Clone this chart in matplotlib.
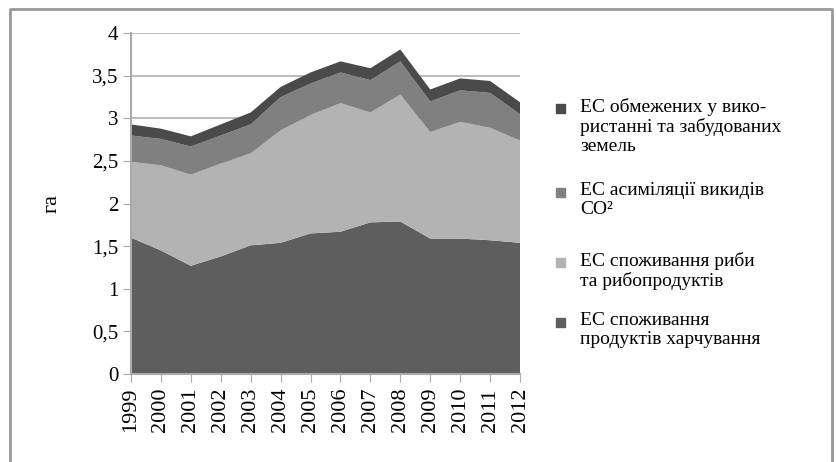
import matplotlib.pyplot as plt
from matplotlib.patches import Rectangle
from matplotlib.ticker import FuncFormatter, MultipleLocator

plt.rcParams["font.family"] = ["Liberation Serif", "DejaVu Serif"]

years = [1999, 2000, 2001, 2002, 2003, 2004, 2005, 2006, 2007, 2008, 2009, 2010, 2011, 2012]
food = [1.60, 1.45, 1.27, 1.38, 1.51, 1.54, 1.65, 1.67, 1.78, 1.79, 1.59, 1.59, 1.57, 1.54]
fish = [0.89, 1.00, 1.07, 1.09, 1.08, 1.32, 1.39, 1.51, 1.29, 1.49, 1.25, 1.37, 1.32, 1.20]
co2 = [0.31, 0.31, 0.33, 0.33, 0.34, 0.39, 0.37, 0.36, 0.38, 0.39, 0.36, 0.37, 0.41, 0.31]
built = [0.13, 0.12, 0.12, 0.13, 0.14, 0.12, 0.13, 0.13, 0.14, 0.14, 0.14, 0.14, 0.14, 0.14]

labels = [
    "ЕС споживання\nпродуктів харчування",
    "ЕС споживання риби\nта рибопродуктів",
    "ЕС асиміляції викидів\nCO²",
    "ЕС обмежених у вико-\nристанні та забудованих\nземель",
]
colors = ["#5e5e5e", "#b3b3b3", "#808080", "#4a4a4a"]


def main():
    fig = plt.figure(figsize=(8.37, 4.62), dpi=100)
    ax = fig.add_axes([0.1565, 0.1905, 0.4648, 0.7375])

    ax.stackplot(years, food, fish, co2, built, colors=colors, linewidth=0, zorder=2)

    ax.set_xlim(1999, 2012)
    ax.set_ylim(0, 4)
    ax.yaxis.set_major_locator(MultipleLocator(0.5))
    ax.yaxis.set_major_formatter(FuncFormatter(lambda v, p: f"{v:g}".replace(".", ",")))
    ax.set_xticks(years)
    ax.set_xticklabels([str(y) for y in years], rotation=90)
    ax.tick_params(labelsize=15, length=6, color="#aaaaaa", pad=3)
    ax.tick_params(axis="x", labelsize=16, pad=4)
    ax.grid(axis="y", color="#bdbdbd", linewidth=1.5, zorder=0)
    ax.set_axisbelow(True)
    for side in ["top", "right"]:
        ax.spines[side].set_visible(False)
    for side in ["left", "bottom"]:
        ax.spines[side].set_color("#aaaaaa")
        ax.spines[side].set_linewidth(1.5)
    ax.set_ylabel("га", fontsize=16, labelpad=22)

    # legend drawn by hand: square beside the first line of each label
    first_line_y = [322, 262, 192, 108]
    for lab, col, yy in zip(labels, colors, first_line_y):
        fy = 1 - yy / 462
        fig.add_artist(Rectangle((556 / 837, fy - 4.5 / 462), 9 / 837, 9 / 462,
                                 transform=fig.transFigure, color=col))
        fig.text(580 / 837, fy + 10 / 462, lab, fontsize=14, va="top", ha="left",
                 linespacing=1.15)

    # outer frame (open at the bottom)
    fig.add_artist(plt.Line2D([10 / 837, 10 / 837, 832 / 837, 832 / 837],
                              [0, 1 - 9 / 462, 1 - 9 / 462, 0],
                              transform=fig.transFigure, color="#999999", linewidth=2))

    fig.savefig("out.png", dpi=100)


if __name__ == "__main__":
    main()
